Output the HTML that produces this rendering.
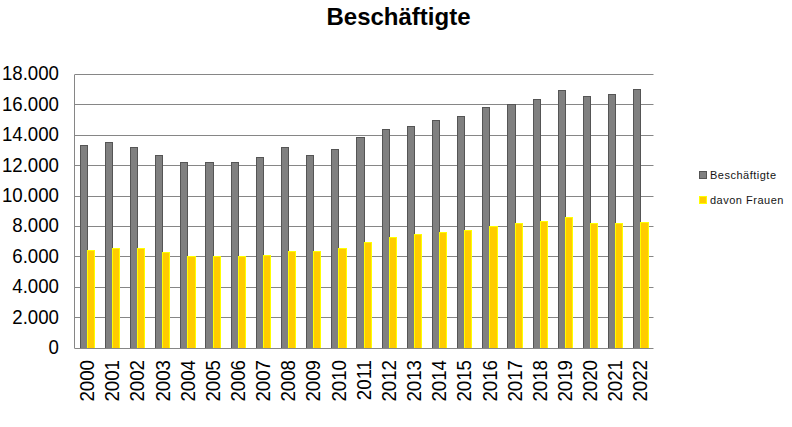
<!DOCTYPE html>
<html><head><meta charset="utf-8">
<style>
html,body{margin:0;padding:0;background:#fff;}
body{width:792px;height:427px;position:relative;overflow:hidden;font-family:"Liberation Sans",sans-serif;color:#000;}
svg{position:absolute;left:0;top:0;}
.title{position:absolute;left:0;width:797px;top:3px;text-align:center;font-weight:bold;font-size:24px;line-height:28px;}
.yl{position:absolute;right:733px;font-size:18.67px;line-height:22px;transform:scaleY(1.07);white-space:nowrap;}
.xl{position:absolute;width:60px;height:22px;line-height:22px;text-align:right;font-size:18.67px;transform:rotate(-90deg) scaleY(1.07);white-space:nowrap;}
.leg{position:absolute;color:#141414;font-size:11px;line-height:13px;white-space:nowrap;letter-spacing:0.5px;}
.sw{position:absolute;width:8px;height:8px;}
</style></head><body>
<svg width="792" height="427" shape-rendering="crispEdges">
<rect x="74" y="74" width="579" height="1" fill="#868686"/>
<rect x="653" y="74" width="1" height="1" fill="#c4c4c4"/>
<rect x="74" y="104" width="579" height="1" fill="#868686"/>
<rect x="653" y="104" width="1" height="1" fill="#c4c4c4"/>
<rect x="74" y="135" width="579" height="1" fill="#868686"/>
<rect x="653" y="135" width="1" height="1" fill="#c4c4c4"/>
<rect x="74" y="165" width="579" height="1" fill="#868686"/>
<rect x="653" y="165" width="1" height="1" fill="#c4c4c4"/>
<rect x="74" y="196" width="579" height="1" fill="#868686"/>
<rect x="653" y="196" width="1" height="1" fill="#c4c4c4"/>
<rect x="74" y="226" width="579" height="1" fill="#868686"/>
<rect x="653" y="226" width="1" height="1" fill="#c4c4c4"/>
<rect x="74" y="256" width="579" height="1" fill="#868686"/>
<rect x="653" y="256" width="1" height="1" fill="#c4c4c4"/>
<rect x="74" y="287" width="579" height="1" fill="#868686"/>
<rect x="653" y="287" width="1" height="1" fill="#c4c4c4"/>
<rect x="74" y="317" width="579" height="1" fill="#868686"/>
<rect x="653" y="317" width="1" height="1" fill="#c4c4c4"/>
<rect x="74" y="348" width="579" height="1" fill="#868686"/>
<rect x="653" y="348" width="1" height="1" fill="#c4c4c4"/>
<rect x="74" y="74" width="1" height="275" fill="#868686"/>
<rect x="80" y="145" width="8" height="203" fill="#555555"/>
<rect x="81" y="146" width="6" height="202" fill="#808080"/>
<rect x="87" y="250" width="8" height="98" fill="#ffff00"/>
<rect x="88" y="251" width="6" height="97" fill="#ffcc00"/>
<rect x="105" y="142" width="8" height="206" fill="#555555"/>
<rect x="106" y="143" width="6" height="205" fill="#808080"/>
<rect x="112" y="248" width="8" height="100" fill="#ffff00"/>
<rect x="113" y="249" width="6" height="99" fill="#ffcc00"/>
<rect x="130" y="147" width="8" height="201" fill="#555555"/>
<rect x="131" y="148" width="6" height="200" fill="#808080"/>
<rect x="137" y="248" width="8" height="100" fill="#ffff00"/>
<rect x="138" y="249" width="6" height="99" fill="#ffcc00"/>
<rect x="155" y="155" width="8" height="193" fill="#555555"/>
<rect x="156" y="156" width="6" height="192" fill="#808080"/>
<rect x="162" y="252" width="8" height="96" fill="#ffff00"/>
<rect x="163" y="253" width="6" height="95" fill="#ffcc00"/>
<rect x="180" y="162" width="8" height="186" fill="#555555"/>
<rect x="181" y="163" width="6" height="185" fill="#808080"/>
<rect x="187" y="256" width="9" height="92" fill="#ffff00"/>
<rect x="188" y="257" width="7" height="91" fill="#ffcc00"/>
<rect x="205" y="162" width="9" height="186" fill="#555555"/>
<rect x="206" y="163" width="7" height="185" fill="#808080"/>
<rect x="213" y="256" width="8" height="92" fill="#ffff00"/>
<rect x="214" y="257" width="6" height="91" fill="#ffcc00"/>
<rect x="231" y="162" width="8" height="186" fill="#555555"/>
<rect x="232" y="163" width="6" height="185" fill="#808080"/>
<rect x="238" y="256" width="8" height="92" fill="#ffff00"/>
<rect x="239" y="257" width="6" height="91" fill="#ffcc00"/>
<rect x="256" y="157" width="8" height="191" fill="#555555"/>
<rect x="257" y="158" width="6" height="190" fill="#808080"/>
<rect x="263" y="255" width="8" height="93" fill="#ffff00"/>
<rect x="264" y="256" width="6" height="92" fill="#ffcc00"/>
<rect x="281" y="147" width="8" height="201" fill="#555555"/>
<rect x="282" y="148" width="6" height="200" fill="#808080"/>
<rect x="288" y="251" width="8" height="97" fill="#ffff00"/>
<rect x="289" y="252" width="6" height="96" fill="#ffcc00"/>
<rect x="306" y="155" width="8" height="193" fill="#555555"/>
<rect x="307" y="156" width="6" height="192" fill="#808080"/>
<rect x="313" y="251" width="8" height="97" fill="#ffff00"/>
<rect x="314" y="252" width="6" height="96" fill="#ffcc00"/>
<rect x="331" y="149" width="8" height="199" fill="#555555"/>
<rect x="332" y="150" width="6" height="198" fill="#808080"/>
<rect x="338" y="248" width="9" height="100" fill="#ffff00"/>
<rect x="339" y="249" width="7" height="99" fill="#ffcc00"/>
<rect x="356" y="137" width="9" height="211" fill="#555555"/>
<rect x="357" y="138" width="7" height="210" fill="#808080"/>
<rect x="364" y="242" width="8" height="106" fill="#ffff00"/>
<rect x="365" y="243" width="6" height="105" fill="#ffcc00"/>
<rect x="382" y="129" width="8" height="219" fill="#555555"/>
<rect x="383" y="130" width="6" height="218" fill="#808080"/>
<rect x="389" y="237" width="8" height="111" fill="#ffff00"/>
<rect x="390" y="238" width="6" height="110" fill="#ffcc00"/>
<rect x="407" y="126" width="8" height="222" fill="#555555"/>
<rect x="408" y="127" width="6" height="221" fill="#808080"/>
<rect x="414" y="234" width="8" height="114" fill="#ffff00"/>
<rect x="415" y="235" width="6" height="113" fill="#ffcc00"/>
<rect x="432" y="120" width="8" height="228" fill="#555555"/>
<rect x="433" y="121" width="6" height="227" fill="#808080"/>
<rect x="439" y="232" width="8" height="116" fill="#ffff00"/>
<rect x="440" y="233" width="6" height="115" fill="#ffcc00"/>
<rect x="457" y="116" width="8" height="232" fill="#555555"/>
<rect x="458" y="117" width="6" height="231" fill="#808080"/>
<rect x="464" y="230" width="8" height="118" fill="#ffff00"/>
<rect x="465" y="231" width="6" height="117" fill="#ffcc00"/>
<rect x="482" y="107" width="8" height="241" fill="#555555"/>
<rect x="483" y="108" width="6" height="240" fill="#808080"/>
<rect x="489" y="226" width="9" height="122" fill="#ffff00"/>
<rect x="490" y="227" width="7" height="121" fill="#ffcc00"/>
<rect x="507" y="104" width="9" height="244" fill="#555555"/>
<rect x="508" y="105" width="7" height="243" fill="#808080"/>
<rect x="515" y="223" width="8" height="125" fill="#ffff00"/>
<rect x="516" y="224" width="6" height="124" fill="#ffcc00"/>
<rect x="533" y="99" width="8" height="249" fill="#555555"/>
<rect x="534" y="100" width="6" height="248" fill="#808080"/>
<rect x="540" y="221" width="8" height="127" fill="#ffff00"/>
<rect x="541" y="222" width="6" height="126" fill="#ffcc00"/>
<rect x="558" y="90" width="8" height="258" fill="#555555"/>
<rect x="559" y="91" width="6" height="257" fill="#808080"/>
<rect x="565" y="217" width="8" height="131" fill="#ffff00"/>
<rect x="566" y="218" width="6" height="130" fill="#ffcc00"/>
<rect x="583" y="96" width="8" height="252" fill="#555555"/>
<rect x="584" y="97" width="6" height="251" fill="#808080"/>
<rect x="590" y="223" width="8" height="125" fill="#ffff00"/>
<rect x="591" y="224" width="6" height="124" fill="#ffcc00"/>
<rect x="608" y="94" width="8" height="254" fill="#555555"/>
<rect x="609" y="95" width="6" height="253" fill="#808080"/>
<rect x="615" y="223" width="8" height="125" fill="#ffff00"/>
<rect x="616" y="224" width="6" height="124" fill="#ffcc00"/>
<rect x="633" y="89" width="8" height="259" fill="#555555"/>
<rect x="634" y="90" width="6" height="258" fill="#808080"/>
<rect x="640" y="222" width="9" height="126" fill="#ffff00"/>
<rect x="641" y="223" width="7" height="125" fill="#ffcc00"/>
<rect x="74" y="348" width="579" height="1" fill="#868686"/>
<rect x="74" y="74" width="1" height="1" fill="#b4b4b4"/>
<rect x="74" y="348" width="1" height="1" fill="#b4b4b4"/>
</svg>
<div class="title">Beschäftigte</div>
<div class="yl" style="top:63.0px">18.000</div><div class="yl" style="top:94.4px">16.000</div><div class="yl" style="top:123.9px">14.000</div><div class="yl" style="top:155.3px">12.000</div><div class="yl" style="top:184.8px">10.000</div><div class="yl" style="top:215.2px">8.000</div><div class="yl" style="top:245.7px">6.000</div><div class="yl" style="top:276.1px">4.000</div><div class="yl" style="top:306.6px">2.000</div><div class="yl" style="top:337.0px">0</div>
<div class="xl" style="left:58.1px;top:379.0px">2000</div><div class="xl" style="left:83.2px;top:379.0px">2001</div><div class="xl" style="left:108.4px;top:379.0px">2002</div><div class="xl" style="left:133.5px;top:379.0px">2003</div><div class="xl" style="left:158.7px;top:379.0px">2004</div><div class="xl" style="left:183.8px;top:379.0px">2005</div><div class="xl" style="left:209.0px;top:379.0px">2006</div><div class="xl" style="left:234.1px;top:379.0px">2007</div><div class="xl" style="left:259.3px;top:379.0px">2008</div><div class="xl" style="left:284.4px;top:379.0px">2009</div><div class="xl" style="left:309.6px;top:379.0px">2010</div><div class="xl" style="left:334.7px;top:379.0px">2011</div><div class="xl" style="left:359.9px;top:379.0px">2012</div><div class="xl" style="left:385.0px;top:379.0px">2013</div><div class="xl" style="left:410.2px;top:379.0px">2014</div><div class="xl" style="left:435.3px;top:379.0px">2015</div><div class="xl" style="left:460.5px;top:379.0px">2016</div><div class="xl" style="left:485.6px;top:379.0px">2017</div><div class="xl" style="left:510.8px;top:379.0px">2018</div><div class="xl" style="left:535.9px;top:379.0px">2019</div><div class="xl" style="left:561.1px;top:379.0px">2020</div><div class="xl" style="left:586.2px;top:379.0px">2021</div><div class="xl" style="left:611.4px;top:379.0px">2022</div>
<div class="sw" style="left:699px;top:171px;background:#808080;border:0;box-shadow:inset 0 0 0 1px #555555"></div>
<div class="leg" style="left:710px;top:169px">Beschäftigte</div>
<div class="sw" style="left:699px;top:196px;background:#ffcc00;box-shadow:inset 0 0 0 1px #ffff00"></div>
<div class="leg" style="left:710px;top:194px">davon Frauen</div>
</body></html>
